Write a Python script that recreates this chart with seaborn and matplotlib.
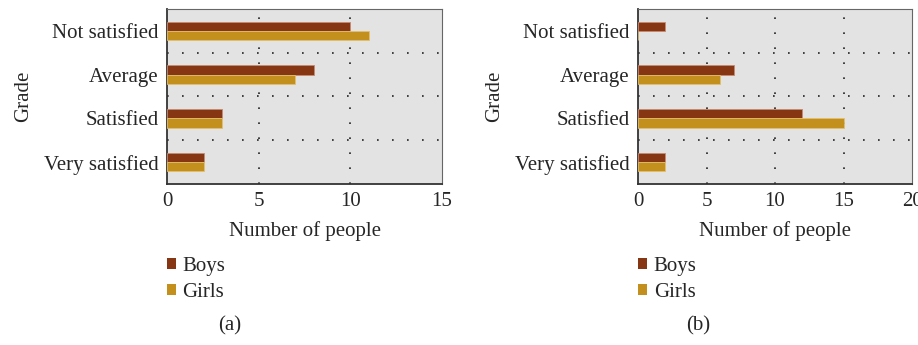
import matplotlib
matplotlib.use("Agg")
import matplotlib.pyplot as plt
import seaborn as sns
import pandas as pd
from matplotlib.patches import Patch

sns.set_theme(style="white")
plt.rcParams["font.family"] = ["Liberation Serif", "DejaVu Serif"]

grades = ["Not satisfied", "Average", "Satisfied", "Very satisfied"]
groups = ["Boys", "Girls"]

boys_a = [10, 8, 3, 2]
girls_a = [11, 7, 3, 2]
boys_b = [2, 7, 12, 2]
girls_b = [0, 6, 15, 2]

xticks_a = [0, 5, 10, 15]
xticks_b = [0, 5, 10, 15, 20]
captions = ["(a)", "(b)"]

colors = {"Boys": "#873614", "Girls": "#C3901D"}
edges = {"Boys": "#c78a70", "Girls": "#e2c070"}


def long_table(boys, girls):
    rows = []
    for g, b, gi in zip(grades, boys, girls):
        rows.append({"Grade": g, "Group": "Boys", "Count": b})
        rows.append({"Grade": g, "Group": "Girls", "Count": gi})
    return pd.DataFrame(rows)


fig = plt.figure(figsize=(9.18, 3.45), dpi=100)
ax_a = fig.add_axes([0.1819, 0.4667, 0.2996, 0.5072])
ax_b = fig.add_axes([0.6950, 0.4667, 0.2985, 0.5072])

FS = 15
dot = (0, (1, 8))

panels = [
    (ax_a, long_table(boys_a, girls_a), xticks_a),
    (ax_b, long_table(boys_b, girls_b), xticks_b),
]

for i, (ax, df, ticks) in enumerate(panels):
    ax.set_facecolor("#e3e3e3")
    sns.barplot(data=df, y="Grade", x="Count", hue="Group", order=grades,
                hue_order=groups, palette=colors, orient="h", width=0.42,
                saturation=1, ax=ax, legend=False, zorder=3)
    for bar_container, grp in zip(ax.containers, groups):
        for p in bar_container:
            p.set_edgecolor(edges[grp])
            p.set_linewidth(0.6)
    ax.set_xlim(ticks[0], ticks[-1])
    ax.set_ylim(3.5, -0.5)
    ax.set_xticks(ticks)
    ax.set_xticklabels([str(t) for t in ticks], fontsize=FS)
    ax.tick_params(axis="y", labelsize=FS, length=0, pad=6)
    ax.tick_params(axis="x", length=0, pad=6)
    for t in ticks[1:-1]:
        ax.axvline(t, color="#222222", lw=1.2, linestyle=dot, zorder=1)
    for y in [0.5, 1.5, 2.5]:
        ax.axhline(y, color="#222222", lw=1.2, linestyle=dot, zorder=1)
    ax.set_xlabel("Number of people", fontsize=FS, labelpad=7)
    ax.set_ylabel("Grade", fontsize=FS, labelpad=8)
    for side in ["left", "bottom"]:
        ax.spines[side].set_color("#333333")
        ax.spines[side].set_linewidth(1.3)
    for side in ["top", "right"]:
        ax.spines[side].set_color("#666666")
        ax.spines[side].set_linewidth(0.8)

    handles = [Patch(facecolor=colors[g], edgecolor="none") for g in groups]
    left = ax.get_position().x0
    fig.legend(handles, groups, loc="upper left",
               bbox_to_anchor=(left, 0.255), frameon=False,
               fontsize=FS, handlelength=0.45, handleheight=0.45,
               handletextpad=0.3, labelspacing=0.35, borderpad=0,
               borderaxespad=0)
    cx = [0.2505, 0.7603][i]
    fig.text(cx, 0.055, captions[i], ha="center", va="center", fontsize=FS)

fig.savefig("out.png", dpi=100)
